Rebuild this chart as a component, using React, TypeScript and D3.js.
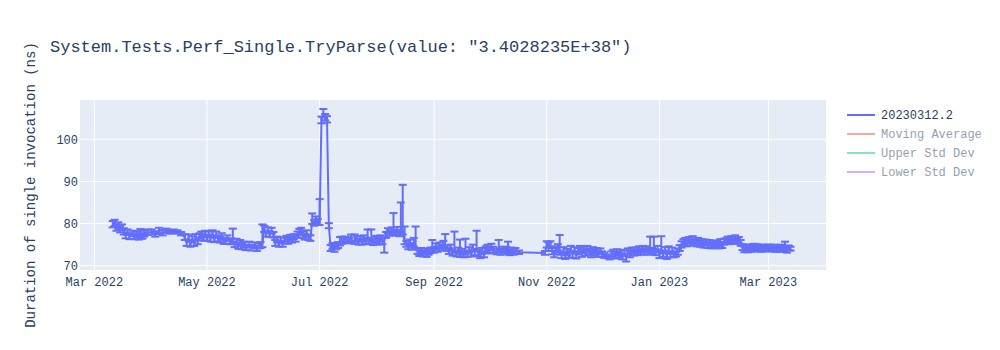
import React from "react";
import * as d3 from "d3";

// ---- data ----
const months = [
  "2022-03", "2022-04", "2022-05", "2022-06", "2022-07", "2022-08", "2022-09",
  "2022-10", "2022-11", "2022-12", "2023-01", "2023-02", "2023-03",
];

const days: number[][] = [
  [11, 12, 13, 14, 15, 16, 17, 18, 19, 20, 22, 23, 24, 25, 26, 27, 28, 30],
  [1, 3, 5, 7, 9, 11, 13, 15, 17, 19, 20, 21, 22, 23, 24, 25, 26, 27, 28, 29, 30],
  [1, 2, 3, 4, 5, 6, 7, 8, 9, 10, 11, 12, 14, 15, 16, 17, 18, 19, 20, 21, 22, 24, 25, 27, 28, 29, 30, 31],
  [1, 2, 3, 4, 5, 6, 7, 8, 9, 10, 11, 12, 13, 14, 15, 16, 17, 18, 19, 20, 21, 22, 23, 24, 25, 26, 27, 28, 29, 30],
  [1, 2, 3, 4, 5, 6, 7, 8, 9, 10, 11, 12, 13, 14, 15, 17, 18, 20, 21, 22, 23, 24, 25, 26, 27, 28, 29, 30, 31],
  [1, 2, 3, 4, 5, 6, 7, 8, 9, 10, 11, 12, 13, 14, 15, 16, 17, 18, 19, 20, 21, 22, 23, 24, 25, 26, 27, 28, 29, 30, 31],
  [1, 2, 3, 4, 5, 6, 7, 8, 9, 10, 11, 12, 13, 14, 15, 16, 17, 18, 19, 20, 21, 22, 23, 24, 25, 26, 27, 28, 29, 30],
  [1, 2, 3, 5, 6, 7, 8, 9, 10, 11, 12, 13, 14, 15, 17, 31],
  [1, 2, 3, 4, 5, 6, 7, 8, 9, 10, 11, 12, 13, 14, 15, 16, 17, 18, 19, 20, 21, 22, 23, 24, 25, 26, 27, 28, 29, 30],
  [1, 2, 3, 5, 6, 7, 8, 9, 10, 11, 12, 13, 14, 15, 16, 17, 18, 19, 20, 21, 22, 23, 24, 25, 26, 27, 28, 29, 30, 31],
  [1, 2, 3, 4, 5, 6, 7, 8, 9, 10, 11, 12, 13, 14, 15, 16, 17, 18, 19, 20, 21, 22, 23, 24, 25, 26, 27, 28, 29, 30, 31],
  [1, 2, 3, 4, 5, 6, 7, 8, 9, 10, 11, 12, 13, 14, 15, 16, 17, 18, 19, 20, 21, 22, 23, 24, 25, 26, 27, 28],
  [1, 2, 3, 4, 5, 6, 7, 8, 9, 10, 11, 12, 13],
];

const values: number[][] = [
  [79.8, 80.2, 79.0, 79.6, 78.6, 79.2, 78.2, 77.2, 77.9, 77.0, 77.7, 76.9, 77.5, 76.8, 77.6, 77.0, 77.6, 77.9],
  [78.0, 77.6, 78.1, 77.8, 78.2, 78.0, 78.2, 78.0, 77.6, 76.8, 75.4, 76.7, 75.0, 76.3, 75.3, 76.9, 75.7, 77.0, 77.5, 76.5, 77.6],
  [76.6, 77.4, 76.4, 77.7, 76.2, 77.3, 76.5, 76.1, 77.0, 75.8, 75.9, 76.6, 75.7, 76.2, 75.0, 75.8, 74.6, 75.4, 74.5, 75.1, 74.3, 75.0, 74.2, 74.9, 74.1, 74.7, 74.9, 75.2],
  [78.7, 77.6, 78.5, 77.4, 78.3, 77.3, 75.4, 76.3, 75.2, 75.9, 75.1, 76.0, 76.5, 75.8, 76.7, 76.1, 76.9, 76.3, 77.3, 77.9, 78.3, 77.3, 76.8, 77.7, 76.7, 76.5, 80.6, 80.1, 80.9, 80.3],
  [80.3, 104.6, 105.9, 105.2, 104.7, 79.6, 74.1, 74.7, 73.9, 74.6, 74.8, 75.5, 75.8, 76.1, 76.3, 75.9, 76.2, 75.8, 76.4, 75.7, 76.3, 75.6, 76.5, 75.9, 76.9, 75.8, 76.3, 75.6, 76.1],
  [76.3, 75.7, 76.5, 75.8, 76.0, 77.3, 78.3, 77.7, 78.5, 78.0, 77.8, 78.5, 77.7, 78.2, 78.0, 75.8, 75.1, 74.6, 75.5, 74.5, 75.2, 74.8, 73.5, 72.9, 73.5, 72.8, 73.4, 72.7, 73.3, 73.6, 74.1],
  [73.7, 74.5, 73.9, 74.9, 74.2, 75.2, 74.6, 74.1, 73.5, 74.4, 73.0, 74.0, 72.8, 73.6, 72.7, 73.3, 72.6, 73.5, 72.8, 73.7, 72.9, 74.3, 73.2, 74.2, 73.0, 72.5, 73.5, 72.6, 73.9, 74.4],
  [73.5, 74.5, 73.7, 73.4, 74.0, 73.2, 73.9, 73.3, 73.8, 73.5, 73.1, 73.7, 73.2, 73.4, 73.2, 73.0],
  [75.0, 74.3, 75.0, 73.5, 72.7, 73.9, 74.3, 73.4, 72.5, 73.6, 72.3, 73.3, 72.6, 74.0, 72.7, 73.7, 72.4, 73.5, 74.0, 72.8, 73.8, 73.1, 74.1, 73.3, 72.7, 73.7, 73.0, 73.6, 72.8, 73.4],
  [72.7, 72.5, 72.2, 71.9, 72.7, 73.1, 72.3, 73.3, 72.5, 73.1, 72.1, 73.0, 72.1, 73.4, 72.7, 73.6, 73.0, 73.7, 73.1, 73.9, 73.3, 74.0, 73.4, 73.9, 73.3, 74.0, 73.5, 74.1, 73.2, 73.9],
  [72.5, 74.0, 72.8, 73.7, 72.3, 73.9, 72.7, 73.5, 72.6, 72.6, 73.3, 74.2, 75.0, 75.6, 75.9, 75.3, 76.0, 75.5, 76.0, 75.6, 75.3, 75.9, 75.2, 75.6, 75.0, 75.5, 74.9, 75.4, 74.8, 75.3, 74.8],
  [75.2, 74.8, 75.3, 74.9, 75.7, 75.8, 76.3, 75.7, 76.4, 75.8, 76.4, 75.8, 76.1, 75.4, 74.4, 73.8, 74.3, 73.8, 74.4, 73.9, 74.5, 74.0, 74.5, 74.1, 73.9, 74.4, 74.0, 74.4],
  [74.0, 74.4, 74.0, 74.4, 73.9, 74.3, 73.9, 74.4, 74.0, 74.2, 74.0, 74.2, 74.0],
];

const errLow: number[][] = [
  [0.7, 0.8, 0.7, 0.8, 0.7, 0.7, 0.8, 0.7, 0.6, 0.7, 0.7, 0.6, 0.7, 0.6, 0.7, 0.6, 0.7, 0.6],
  [0.6, 0.7, 0.6, 0.6, 0.4, 0.4, 0.4, 0.4, 0.4, 0.7, 0.7, 0.7, 0.5, 0.7, 0.6, 0.7, 0.6, 0.6, 0.7, 0.6, 0.7],
  [0.6, 0.7, 0.7, 0.6, 0.6, 0.7, 0.7, 0.6, 0.7, 0.6, 0.7, 0.7, 0.6, 0.7, 0.6, 0.7, 0.6, 0.7, 0.6, 0.7, 0.6, 0.7, 0.6, 0.7, 0.6, 0.6, 0.7, 0.8],
  [0.7, 0.7, 0.7, 0.6, 0.7, 0.6, 0.7, 0.7, 0.7, 0.6, 0.6, 0.7, 0.6, 0.6, 0.7, 0.6, 0.6, 0.6, 0.7, 0.7, 0.7, 0.7, 0.6, 0.7, 0.6, 0.6, 0.7, 0.6, 0.7, 0.6],
  [0.6, 0.8, 0.7, 0.7, 0.7, 0.7, 0.6, 0.7, 0.6, 0.7, 0.6, 0.7, 0.6, 0.6, 0.7, 0.6, 0.6, 0.6, 0.6, 0.7, 0.6, 0.6, 0.7, 0.7, 0.6, 0.7, 0.6, 0.7, 0.7],
  [0.7, 0.7, 0.6, 0.7, 2.9, 0.7, 0.7, 0.6, 0.7, 0.7, 0.6, 0.7, 0.7, 0.6, 0.6, 0.7, 0.6, 0.7, 0.6, 0.7, 0.7, 0.6, 0.7, 0.6, 0.7, 0.6, 0.7, 0.6, 0.7, 0.6, 0.7],
  [0.6, 0.7, 0.6, 0.7, 0.6, 0.7, 0.7, 0.6, 0.7, 0.7, 0.6, 0.7, 0.6, 0.7, 0.6, 0.7, 0.6, 0.7, 0.7, 0.6, 0.7, 0.7, 0.7, 0.7, 0.8, 0.7, 0.7, 0.6, 0.7, 0.7],
  [0.6, 0.7, 0.6, 0.7, 0.7, 0.6, 0.7, 0.6, 0.7, 0.6, 0.6, 0.7, 0.6, 0.6, 0.4, 0.4],
  [0.7, 0.8, 0.7, 0.8, 0.7, 0.8, 0.7, 0.8, 0.7, 0.7, 0.7, 0.8, 0.7, 0.7, 0.8, 0.7, 0.7, 0.8, 0.7, 0.7, 0.8, 0.7, 0.7, 0.7, 0.7, 0.7, 0.6, 0.7, 0.7, 0.6],
  [0.6, 0.6, 0.4, 0.4, 0.6, 0.7, 0.6, 0.7, 0.6, 0.7, 0.6, 0.7, 1.1, 0.7, 0.7, 0.7, 0.6, 0.7, 0.6, 0.7, 0.7, 0.6, 0.7, 0.6, 0.7, 0.7, 0.7, 0.7, 0.7, 0.6],
  [0.7, 0.7, 0.7, 0.8, 0.7, 0.7, 0.7, 0.7, 0.6, 0.4, 0.7, 0.7, 0.7, 0.7, 0.6, 0.7, 0.6, 0.7, 0.7, 0.6, 0.7, 0.6, 0.7, 0.6, 0.7, 0.6, 0.7, 0.6, 0.7, 0.6, 0.6],
  [0.6, 0.7, 0.6, 0.7, 0.7, 0.6, 0.7, 0.6, 0.7, 0.6, 0.7, 0.6, 0.7, 0.7, 0.7, 0.6, 0.7, 0.6, 0.7, 0.6, 0.7, 0.6, 0.7, 0.6, 0.6, 0.6, 0.6, 0.7],
  [0.6, 0.6, 0.6, 0.7, 0.6, 0.6, 0.6, 0.7, 0.6, 0.7, 0.9, 0.6, 0.4],
];

const errHigh: number[][] = [
  [0.8, 0.7, 0.8, 0.7, 0.8, 0.6, 0.7, 0.7, 0.7, 0.7, 0.6, 0.8, 0.7, 0.8, 1.1, 0.7, 0.7, 0.7],
  [0.6, 0.6, 0.9, 0.7, 0.6, 0.4, 0.4, 0.4, 0.4, 0.7, 0.8, 0.7, 0.8, 0.7, 0.7, 0.6, 0.8, 0.7, 0.6, 0.8, 0.7],
  [0.8, 0.7, 0.7, 0.7, 0.7, 0.8, 0.7, 0.8, 0.7, 0.7, 0.7, 0.6, 0.8, 2.6, 0.7, 0.6, 0.7, 0.7, 0.8, 0.6, 0.7, 0.7, 0.7, 0.6, 0.7, 0.7, 0.7, 4.6],
  [0.8, 0.7, 0.6, 0.7, 0.7, 0.7, 0.7, 0.6, 0.7, 0.8, 0.7, 0.7, 0.6, 0.7, 0.6, 0.7, 0.6, 0.7, 0.8, 0.8, 0.7, 0.8, 0.7, 0.7, 0.7, 0.7, 1.8, 0.7, 0.8, 0.8],
  [5.5, 0.8, 1.3, 0.8, 0.8, 0.5, 0.8, 0.7, 1.4, 0.7, 0.8, 1.3, 1.1, 0.7, 0.6, 0.7, 1.2, 1.6, 0.6, 0.7, 0.7, 0.6, 0.7, 0.7, 1.7, 0.7, 2.3, 0.7, 0.8],
  [0.8, 0.7, 0.7, 0.8, 0.8, 0.7, 0.6, 0.7, 0.6, 4.5, 0.7, 0.7, 0.8, 6.8, 11.2, 3.5, 0.8, 0.7, 0.7, 0.8, 1.4, 4.5, 0.7, 0.8, 0.7, 0.7, 0.7, 0.8, 0.6, 0.7, 2.0],
  [0.7, 0.8, 0.7, 0.6, 0.7, 0.7, 2.9, 0.7, 0.7, 0.6, 0.8, 4.1, 0.7, 0.7, 3.5, 0.7, 0.8, 2.9, 0.7, 0.7, 0.7, 0.7, 0.8, 4.1, 0.7, 0.8, 0.7, 0.7, 0.7, 0.6],
  [0.7, 0.7, 0.8, 0.7, 2.1, 0.7, 0.6, 0.7, 0.7, 2.2, 0.7, 0.6, 0.7, 0.8, 0.4, 0.5],
  [0.8, 1.2, 0.8, 0.7, 0.8, 0.7, 0.8, 3.9, 0.7, 0.8, 0.7, 0.7, 0.8, 0.7, 0.8, 0.7, 0.8, 0.7, 0.7, 0.8, 0.7, 0.8, 0.6, 0.7, 0.8, 0.7, 0.8, 0.6, 0.7, 0.7],
  [0.7, 0.6, 0.5, 0.5, 0.7, 0.7, 0.7, 0.6, 0.8, 0.7, 0.7, 0.7, 0.7, 0.7, 0.8, 0.7, 0.8, 0.6, 0.7, 0.7, 0.8, 0.7, 0.7, 0.7, 0.8, 2.9, 0.7, 2.8, 0.7, 0.8],
  [0.7, 3.0, 0.8, 0.7, 0.8, 0.7, 0.7, 0.8, 0.7, 0.7, 0.7, 0.7, 0.8, 0.7, 0.7, 0.7, 0.8, 0.7, 1.0, 0.7, 0.7, 0.7, 0.7, 0.7, 0.7, 0.7, 0.6, 0.7, 0.7, 0.7, 0.7],
  [0.7, 0.7, 1.0, 0.7, 0.7, 0.7, 0.6, 0.7, 0.6, 0.7, 0.8, 0.7, 0.7, 0.7, 0.7, 0.7, 0.7, 0.7, 0.6, 0.7, 0.7, 0.7, 0.6, 0.7, 0.7, 0.6, 0.7, 0.6],
  [0.7, 0.6, 0.7, 0.6, 0.7, 0.6, 0.7, 0.6, 0.7, 1.5, 0.7, 0.6, 0.5],
];

const xRange = ["2022-02-21T06:00", "2023-04-01T05:00"];
const yRange = [68.98, 109.33];
const xTickDates = ["2022-03-01", "2022-05-01", "2022-07-01", "2022-09-01", "2022-11-01", "2023-01-01", "2023-03-01"];
const yTicks = [70, 80, 90, 100];

const titleText = 'System.Tests.Perf_Single.TryParse(value: "3.4028235E+38")';
const yAxisTitle = "Duration of single invocation (ns)";
const legendNames = ["20230312.2", "Moving Average", "Upper Std Dev", "Lower Std Dev"];
const legendColors = ["#636efa", "#EF553B", "#00cc96", "#ab63fa"];
const legendShown = [true, false, false, false];

// ---- layout ----
const W = 1000;
const H = 350;
const M = { left: 80, right: 174, top: 100, bottom: 80 };
const FONT = "'Liberation Mono', 'Courier New', monospace";
const TEXT = "#2a3f5f";
const BG = "#E5ECF6";

type Pt = { date: Date; v: number; lo: number; hi: number };

export default function App() {
  const parseDay = d3.utcParse("%Y-%m-%d");
  const parseTime = d3.utcParse("%Y-%m-%dT%H:%M");

  const points: Pt[] = [];
  months.forEach((m, mi) => {
    days[mi].forEach((d, i) => {
      const date = parseDay(`${m}-${String(d).padStart(2, "0")}`)!;
      points.push({
        date,
        v: values[mi][i],
        lo: errLow[mi][i] ?? 0.6,
        hi: errHigh[mi][i] ?? 0.6,
      });
    });
  });

  const x = d3
    .scaleUtc()
    .domain([parseTime(xRange[0])!, parseTime(xRange[1])!])
    .range([M.left, W - M.right]);
  const y = d3.scaleLinear().domain(yRange).range([H - M.bottom, M.top]);

  const line = d3
    .line<Pt>()
    .x((p) => x(p.date))
    .y((p) => y(p.v));

  const fmt = d3.utcFormat("%b %Y");
  const capW = 4;
  const color = legendColors[0];

  return (
    <svg
      width={W}
      height={H}
      style={{ position: "absolute", left: 0, top: 0, background: "#fff" }}
      fontFamily={FONT}
    >
      <defs>
        <clipPath id="plotclip">
          <rect x={M.left} y={M.top} width={W - M.left - M.right} height={H - M.top - M.bottom} />
        </clipPath>
      </defs>
      <rect x={M.left} y={M.top} width={W - M.left - M.right} height={H - M.top - M.bottom} fill={BG} />

      {/* grid */}
      {xTickDates.map((t) => {
        const xx = x(parseDay(t)!);
        return <line key={t} x1={xx} x2={xx} y1={M.top} y2={H - M.bottom} stroke="#fff" strokeWidth={1} />;
      })}
      {yTicks.map((t) => (
        <line key={t} x1={M.left} x2={W - M.right} y1={y(t)} y2={y(t)} stroke="#fff" strokeWidth={1} />
      ))}

      {/* data */}
      <g clipPath="url(#plotclip)">
        <path d={line(points) ?? ""} fill="none" stroke={color} strokeWidth={2} strokeLinejoin="round" />
        {points.map((p, i) => {
          const xx = x(p.date);
          const y0 = y(p.v - p.lo);
          const y1 = y(p.v + p.hi);
          return (
            <g key={i} stroke={color} strokeWidth={2}>
              <line x1={xx} x2={xx} y1={y0} y2={y1} />
              <line x1={xx - capW} x2={xx + capW} y1={y0} y2={y0} />
              <line x1={xx - capW} x2={xx + capW} y1={y1} y2={y1} />
            </g>
          );
        })}
      </g>

      {/* axis labels */}
      {xTickDates.map((t) => (
        <text key={t} x={x(parseDay(t)!)} y={H - M.bottom + 7} dy="0.71em" textAnchor="middle" fontSize={12} fill={TEXT}>
          {fmt(parseDay(t)!)}
        </text>
      ))}
      {yTicks.map((t) => (
        <text key={t} x={M.left - 2} y={y(t)} dy="0.35em" textAnchor="end" fontSize={12} fill={TEXT}>
          {t}
        </text>
      ))}

      {/* titles */}
      <text x={50} y={52} fontSize={17} fill={TEXT} style={{ whiteSpace: "pre" }}>
        {titleText}
      </text>
      <text
        transform={`translate(35,${(M.top + H - M.bottom) / 2}) rotate(-90)`}
        textAnchor="middle"
        fontSize={14}
        fill={TEXT}
      >
        {yAxisTitle}
      </text>

      {/* legend */}
      {legendNames.map((n, i) => {
        const ly = 115 + i * 19;
        return (
          <g key={n} opacity={legendShown[i] ? 1 : 0.5}>
            <line x1={847} x2={875} y1={ly} y2={ly} stroke={legendColors[i]} strokeWidth={2} />
            <text x={881} y={ly} dy="0.35em" fontSize={12} fill={TEXT}>
              {n}
            </text>
          </g>
        );
      })}
    </svg>
  );
}
